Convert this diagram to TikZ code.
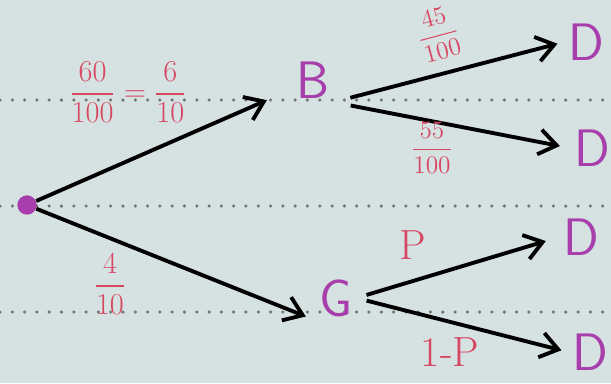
\documentclass[tikz,border=0pt]{standalone}
\usepackage{amsmath}
\usepackage{tikz}
\usetikzlibrary{arrows.meta,positioning}
\definecolor{paper}{RGB}{214,225,226}
\definecolor{inkred}{RGB}{214,72,98}
\definecolor{inkmag}{RGB}{168,62,172}

\begin{document}
\begin{tikzpicture}[x=0.02cm,y=-0.02cm,
  lbl/.style={text=inkred,font=\LARGE,inner sep=1pt},
  ev/.style={text=inkmag,font=\sffamily\fontsize{30}{30}\selectfont,inner sep=2pt},
  arr/.style={-{Straight Barb[length=3.5mm,width=5mm]},line width=2.2pt,black},
  rule/.style={black!55,line width=2pt,dash pattern=on 0pt off 7pt,line cap=round}]
\fill[paper] (0,0) rectangle (611,383);
\useasboundingbox (0,0) rectangle (611,383);
% ruled lines of the paper
\draw[rule] (0,100) -- (611,100);
\draw[rule] (0,206) -- (611,206);
\draw[rule] (0,312) -- (611,312);
% events
\node[circle,fill=inkmag,inner sep=0pt,minimum size=11pt] (root) at (27,205) {};
\node[ev] (b) at (313,80) {B};
\node[ev] (g) at (336,298) {G};
\node[ev] (d1) at (586,42) {D};
\node[ev] (d2) at (592,148) {D};
\node[ev] (d3) at (581,237) {D};
\node[ev] (d4) at (590,352) {D};
% branches
\draw[arr,shorten >=16pt] (root) -- (b);
\draw[arr,shorten >=6pt] (root) -- (g.south west);
\draw[arr,shorten <=10pt,shorten >=4pt] (b.south east) -- (d1.west);
\draw[arr,shorten <=10pt,shorten >=6pt] (b.south east) -- (d2.west);
\draw[arr,shorten <=6pt,shorten >=8pt] (g.east) -- (d3.west);
\draw[arr,shorten <=6pt,shorten >=4pt] (g.east) -- (d4.west);
% probabilities
\node[lbl] (p1) at (128,92) {$\dfrac{60}{100}=\dfrac{6}{10}$};
\node[lbl] (p2) at (110,284) {$\dfrac{4}{10}$};
\node[lbl,font=\Large,rotate=15] (p3) at (438,34) {$\dfrac{45}{100}$};
\node[lbl,font=\Large] (p4) at (432,148) {$\dfrac{55}{100}$};
\node[lbl,font=\fontsize{24}{24}\selectfont] (p5) at (413,245) {P};
\node[lbl,font=\fontsize{24}{24}\selectfont] (p6) at (450,352) {1-P};
\end{tikzpicture}
\end{document}
